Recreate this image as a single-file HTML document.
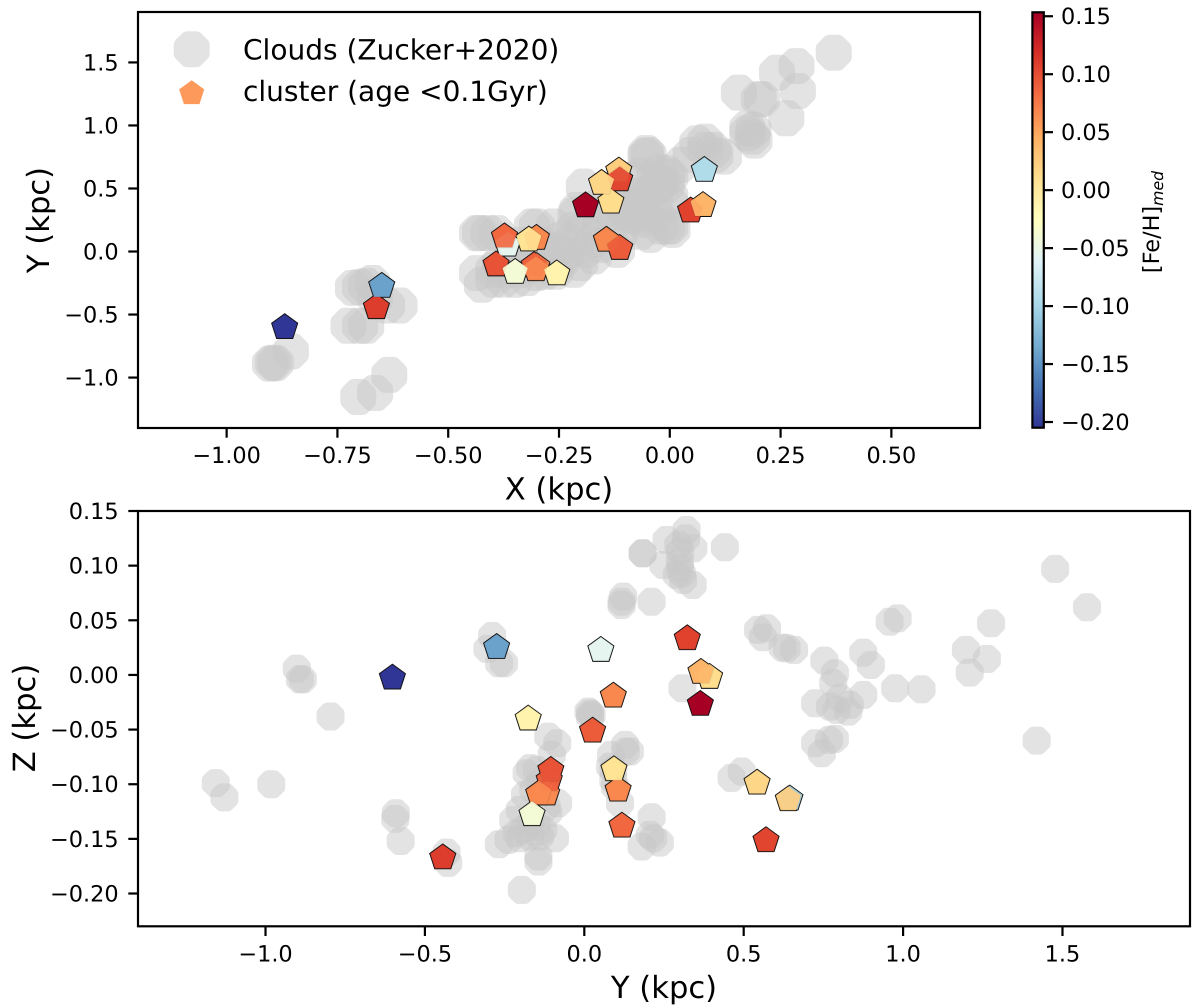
<!DOCTYPE html>
<html>
<head>
<meta charset="utf-8">
<title>Clouds and young clusters</title>
<style>
html,body{margin:0;padding:0;background:#fff;width:1200px;height:1005px;overflow:hidden}
svg{display:block}
text{font-family:"DejaVu Sans","Liberation Sans",sans-serif;fill:#000;text-rendering:geometricPrecision}
</style>
</head>
<body>
<svg id="chart" xmlns="http://www.w3.org/2000/svg" width="1200" height="1005" viewBox="0 0 1200 1005">
<defs>
<linearGradient id="cbar-gradient" x1="0" y1="1" x2="0" y2="0"></linearGradient>
<clipPath id="clip-top"><rect x="138" y="12" width="842" height="416"></rect></clipPath>
<clipPath id="clip-bottom"><rect x="138" y="511" width="1052" height="415"></rect></clipPath>
</defs>
</svg>
<script>
// ---- Cluster data (drawn in both panels) ----
const clusterX = [0.078,-0.366,-0.30,-0.301,-0.306,-0.392,-0.302,-0.349,-0.255,-0.318,-0.115,-0.113,-0.133,-0.154,-0.373,-0.143,-0.113,0.047,0.075,-0.19,-0.662,-0.65,-0.869];
const clusterY = [0.645,0.052,-0.118,0.106,-0.11,-0.105,-0.143,-0.164,-0.176,0.093,0.640,0.570,0.393,0.542,0.118,0.091,0.026,0.323,0.366,0.364,-0.444,-0.275,-0.602];
const clusterZ = [-0.1134,0.0226,-0.1088,-0.1052,-0.0962,-0.0872,-0.1088,-0.1277,-0.0402,-0.0866,-0.114,-0.1515,-0.0021,-0.0988,-0.1382,-0.0192,-0.0512,0.0333,0.0025,-0.0268,-0.1672,0.0253,-0.0027];
const clusterFeH = [-0.094,-0.055,0.065,0.067,0.09,0.097,0.067,-0.04,-0.012,0.007,0.024,0.105,0.012,0.017,0.085,0.067,0.092,0.107,0.04,0.153,0.11,-0.14,-0.205];

// ---- Clouds, X-Y panel ----
const topCloudX = [-0.902,-0.889,-0.895,-0.855,-0.715,-0.699,-0.671,-0.685,-0.725,-0.699,-0.685,-0.61,-0.638,-0.665,-0.633,-0.665,-0.703,
0.37,0.286,0.242,0.289,0.156,0.201,0.208,0.263,0.175,0.189,0.186,0.175,0.191,0.062,0.08,0.099,0.08,0.103,0.122,
-0.053,-0.048,-0.055,-0.025,-0.006,-0.036,-0.021,0.001,-0.029,-0.006,0.001,0.001,-0.051,-0.074,0.001,-0.006,-0.021,0.006,-0.066,-0.085,-0.096,-0.194,-0.209,
-0.3,-0.262,-0.217,-0.194,-0.224,-0.172,-0.134,-0.096,-0.066,-0.127,-0.157,-0.112,-0.119,-0.172,-0.202,-0.247,-0.217,-0.311,
-0.435,-0.428,-0.409,-0.39,-0.435,-0.424,-0.398,-0.375,-0.349,-0.322,-0.3,-0.398,-0.367,-0.338,-0.383,-0.292,-0.258,-0.315,-0.27,-0.337,
-0.247,-0.281,-0.236,-0.19,-0.157,-0.213,-0.157,-0.112,-0.066,-0.033,-0.112,-0.066,-0.089,0.024,0.047,-0.033,-0.044,-0.066,-0.349,-0.315,-0.281,-0.258];
const topCloudY = [-0.89,-0.885,-0.882,-0.792,-0.288,-0.282,-0.25,-0.272,-0.589,-0.589,-0.589,-0.428,-0.428,-0.367,-0.979,-1.122,-1.154,
1.577,1.471,1.418,1.273,1.26,1.208,1.208,1.057,0.978,0.964,0.911,0.938,0.88,0.859,0.872,0.806,0.806,0.766,0.753,
0.782,0.766,0.758,0.634,0.621,0.568,0.542,0.594,0.515,0.529,0.436,0.384,0.436,0.357,0.198,0.198,0.198,0.172,0.251,0.277,0.291,0.515,0.33,
0.198,0.198,0.172,0.172,0.067,0.093,0.225,0.33,0.304,0.304,0.225,0.146,0.013,-0.04,-0.092,-0.092,-0.145,0.198,
0.146,0.146,0.146,0.146,-0.171,-0.264,-0.224,-0.224,-0.224,-0.211,-0.171,-0.145,-0.145,-0.145,-0.092,0.053,0.013,-0.026,-0.105,0.053,
0.093,0.013,-0.026,0.013,0.053,0.291,0.37,0.37,0.449,0.37,0.489,0.608,0.568,0.687,0.766,0.291,0.132,0.156,-0.066,-0.105,-0.161,-0.161];

// ---- Clouds, Y-Z panel ----
const bottomCloudY = [-0.902,-0.892,-0.883,-0.796,-1.156,-1.129,-0.982,-0.591,-0.593,-0.576,-0.432,-0.427,-0.289,-0.304,-0.267,-0.252,
0.321,0.319,0.258,0.183,0.183,0.441,0.342,0.248,0.3,0.3,0.3,0.306,0.31,0.34,0.29,0.295,0.122,0.117,0.117,0.211,
0.018,0.013,0.023,0.018,-0.113,-0.085,-0.102,-0.17,-0.181,-0.149,-0.139,-0.186,-0.16,-0.082,-0.118,-0.202,-0.223,-0.113,
-0.268,-0.238,-0.212,-0.202,-0.17,-0.139,-0.092,-0.144,-0.144,-0.196,-0.17,-0.191,-0.149,-0.129,
0.084,0.128,0.143,0.13,0.091,0.081,0.091,0.096,0.112,0.211,0.206,0.18,0.237,0.216,
0.308,0.545,0.573,0.56,0.622,0.635,0.658,0.753,0.786,0.781,0.875,0.899,0.958,0.983,0.975,1.058,
1.477,1.577,1.276,1.197,1.263,1.209,1.419,0.462,0.494,
0.724,0.771,0.792,0.802,0.833,0.828,0.875,0.724,0.786,0.768,0.745];
const bottomCloudZ = [0.0058,-0.004,-0.004,-0.038,-0.099,-0.112,-0.1,-0.1265,-0.1317,-0.152,-0.1625,-0.172,0.0357,0.0238,0.0107,0.0107,
0.1326,0.125,0.1235,0.1113,0.1113,0.1168,0.1159,0.1006,0.1128,0.1036,0.0976,0.093,0.0869,0.0823,0.0915,0.1189,0.0716,0.067,0.064,0.067,
-0.035,-0.0336,-0.0366,-0.0381,-0.0564,-0.0625,-0.0732,-0.0853,-0.09,-0.0869,-0.0976,-0.1098,-0.1052,-0.1174,-0.1205,-0.1235,-0.1326,-0.1265,
-0.1549,-0.1509,-0.1448,-0.1494,-0.1479,-0.1479,-0.1494,-0.1662,-0.1708,-0.1967,-0.1357,-0.1418,-0.1387,-0.1418,
-0.0732,-0.064,-0.0701,-0.0701,-0.0869,-0.0839,-0.096,-0.1022,-0.1174,-0.1302,-0.1463,-0.157,-0.1534,-0.1494,
-0.0122,0.0412,0.0427,0.0345,0.025,0.0244,0.0229,0.0131,0.0016,-0.0076,0.0204,0.0091,0.0487,0.0518,-0.0122,-0.0131,
0.097,0.0619,0.0473,0.0229,0.0146,0.0021,-0.0601,-0.0942,-0.0884,
-0.0259,-0.029,-0.032,-0.0213,-0.0274,-0.0336,-0.0183,-0.0625,-0.0585,-0.0595,-0.0716];

// ---- Tick labels ----
const topXTicks = [-1.0,-0.75,-0.5,-0.25,0,0.25,0.5];
const topYTicks = [-1.0,-0.5,0,0.5,1.0,1.5];
const bottomXTicks = [-1.0,-0.5,0,0.5,1.0,1.5];
const bottomYTicks = [-0.2,-0.15,-0.1,-0.05,0,0.05,0.1,0.15];
const colorbarTicks = [-0.2,-0.15,-0.1,-0.05,0,0.05,0.1,0.15];

// ---- Colormap (RdYlBu reversed) ----
const cmapColors = ['#313695','#4575b4','#74add1','#abd9e9','#e0f3f8','#ffffbf','#fee090','#fdae61','#f46d43','#d73027','#a50026'];
const colorRange = [-0.2049,0.1534];

const svg = document.getElementById('chart');
const NS = 'http://www.w3.org/2000/svg';

function lin(d0, d1, r0, r1) {
  return function (v) { return r0 + (v - d0) / (d1 - d0) * (r1 - r0); };
}
const topPX = lin(-1.2, 0.7, 138, 980);
const topPY = lin(-1.4, 1.9, 428, 12);
const botPX = lin(-1.4, 1.9, 138, 1190);
const botPY = lin(-0.23, 0.15, 926.3, 511);
const cbarPY = lin(colorRange[0], colorRange[1], 427.7, 12.3);

function make(tag, attrs, parent) {
  const el = document.createElementNS(NS, tag);
  for (const k in attrs) el.setAttribute(k, attrs[k]);
  (parent || svg).appendChild(el);
  return el;
}
function hex2rgb(h) {
  return [parseInt(h.slice(1,3),16), parseInt(h.slice(3,5),16), parseInt(h.slice(5,7),16)];
}
function colorFor(v) {
  let t = (v - colorRange[0]) / (colorRange[1] - colorRange[0]);
  t = Math.max(0, Math.min(1, t)) * (cmapColors.length - 1);
  const i = Math.min(Math.floor(t), cmapColors.length - 2);
  const a = hex2rgb(cmapColors[i]), b = hex2rgb(cmapColors[i + 1]), f = t - i;
  return 'rgb(' + a.map(function (c, j) { return Math.round(c + (b[j] - c) * f); }).join(',') + ')';
}
function pentagonPoints(cx, cy, R) {
  const pts = [];
  for (let i = 0; i < 5; i++) {
    const a = -Math.PI / 2 + i * 2 * Math.PI / 5;
    pts.push((cx + R * Math.cos(a)).toFixed(2) + ',' + (cy + R * Math.sin(a)).toFixed(2));
  }
  return pts.join(' ');
}
// Octagon with softened corners, matching the look of the downsampled '8' marker
function octagonPath(cx, cy, r) {
  const R = r / Math.cos(Math.PI / 8), v = [];
  for (let i = 0; i < 8; i++) {
    const a = Math.PI / 8 + i * Math.PI / 4;
    v.push([cx + R * Math.cos(a), cy + R * Math.sin(a)]);
  }
  const k = 0.22;
  let d = '';
  for (let i = 0; i < 8; i++) {
    const p = v[(i + 7) % 8], c = v[i], n = v[(i + 1) % 8];
    const inX = c[0] + (p[0] - c[0]) * k, inY = c[1] + (p[1] - c[1]) * k;
    const outX = c[0] + (n[0] - c[0]) * k, outY = c[1] + (n[1] - c[1]) * k;
    d += (i === 0 ? 'M' : 'L') + inX.toFixed(2) + ' ' + inY.toFixed(2) + 'Q' + c[0].toFixed(2) + ' ' + c[1].toFixed(2) + ' ' + outX.toFixed(2) + ' ' + outY.toFixed(2);
  }
  return d + 'Z';
}
function fmt(v, digits) {
  const s = Math.abs(v).toFixed(digits);
  return (v < -1e-9 ? '\u2212' : '') + s;
}
const CLOUD_FILL = '#c8c8c8', CLOUD_ALPHA = 0.5;

// ---- Top panel clouds ----
const topClouds = make('g', {'clip-path': 'url(#clip-top)'});


topCloudX.forEach(function (x, i) {
  const el = make('path', {d: octagonPath(topPX(x), topPY(topCloudY[i]), 18), fill: CLOUD_FILL, 'fill-opacity': CLOUD_ALPHA}, topClouds);
  
  
});

// ---- Bottom panel clouds ----
const botClouds = make('g', {'clip-path': 'url(#clip-bottom)'});


bottomCloudY.forEach(function (y, i) {
  const el = make('path', {d: octagonPath(botPX(y), botPY(bottomCloudZ[i]), 14), fill: CLOUD_FILL, 'fill-opacity': CLOUD_ALPHA}, botClouds);
  
  
});

// ---- Clusters: outlined layer first, then plain fills on top ----
function drawClusters(groupName, px, py, xs, ys) {
  const g = make('g', {});
  
  
  xs.forEach(function (x, i) {
    const el = make('polygon', {points: pentagonPoints(px(x), py(ys[i]), 13.4), fill: colorFor(clusterFeH[i]), stroke: '#111', 'stroke-width': 1.5, 'stroke-linejoin': 'miter'}, g);
    
    
  });
  xs.forEach(function (x, i) {
    const el = make('polygon', {points: pentagonPoints(px(x), py(ys[i]), 13.2), fill: colorFor(clusterFeH[i]), 'fill-opacity': 0.9}, g);
    
    
  });
}
drawClusters('clusters-xy-series', topPX, topPY, clusterX, clusterY);
drawClusters('clusters-yz-series', botPX, botPY, clusterY, clusterZ);

// ---- Axes frames ----
const frameTop = make('rect', {x: 138, y: 12, width: 842, height: 416, fill: 'none', stroke: '#000', 'stroke-width': 2.2});


const frameBot = make('rect', {x: 138, y: 511, width: 1052, height: 415.3, fill: 'none', stroke: '#000', 'stroke-width': 2.2});



// ---- Ticks ----
function xTicks(ticks, px, axisY, digits, tickName, labelName) {
  ticks.forEach(function (v) {
    const x = px(v);
    const t = make('line', {x1: x, x2: x, y1: axisY, y2: axisY + 9.7, stroke: '#000', 'stroke-width': 2.2});
    
    
    const l = make('text', {x: x, y: axisY + 35, 'text-anchor': 'middle', 'font-size': 22.4});
    l.textContent = fmt(v, digits);
    
    
  });
}
function yTicks(ticks, py, axisX, digits, tickName, labelName) {
  ticks.forEach(function (v) {
    const y = py(v);
    const t = make('line', {x1: axisX - 9.7, x2: axisX, y1: y, y2: y, stroke: '#000', 'stroke-width': 2.2});
    
    
    const l = make('text', {x: axisX - 19.4, y: y + 8, 'text-anchor': 'end', 'font-size': 22.4});
    l.textContent = fmt(v, digits);
    
    
  });
}
xTicks(topXTicks, topPX, 428, 2, 'x-axis-tick', 'x-tick-label');
yTicks(topYTicks, topPY, 138, 1, 'y-axis-tick', 'y-tick-label');
xTicks(bottomXTicks, botPX, 926.3, 1, 'y-axis-tick-lower', 'y-tick-label-lower');
yTicks(bottomYTicks, botPY, 138, 2, 'z-axis-tick', 'z-tick-label');

// ---- Axis titles ----
const xTitle = make('text', {x: 559, y: 499.5, 'text-anchor': 'middle', 'font-size': 30.6});
xTitle.textContent = 'X (kpc)';


const yTitle = make('text', {x: 0, y: 0, 'text-anchor': 'middle', 'font-size': 30.6, transform: 'translate(49,220) rotate(-90)'});
yTitle.textContent = 'Y (kpc)';


const y2Title = make('text', {x: 664, y: 998, 'text-anchor': 'middle', 'font-size': 30.6});
y2Title.textContent = 'Y (kpc)';


const zTitle = make('text', {x: 0, y: 0, 'text-anchor': 'middle', 'font-size': 30.6, transform: 'translate(35,718) rotate(-90)'});
zTitle.textContent = 'Z (kpc)';



// ---- Legend ----
const legendCloud = make('path', {d: octagonPath(191.7, 49.3, 18), fill: CLOUD_FILL, 'fill-opacity': CLOUD_ALPHA});


const legendText1 = make('text', {x: 243, y: 59.5, 'font-size': 28});
legendText1.textContent = 'Clouds (Zucker+2020)';


const legendPent = make('polygon', {points: pentagonPoints(191.7, 93.4, 13.2), fill: '#fd9a5b'});


const legendText2 = make('text', {x: 243, y: 101, 'font-size': 28});
legendText2.textContent = 'cluster (age <0.1Gyr)';



// ---- Colorbar ----
const grad = document.getElementById('cbar-gradient');
cmapColors.forEach(function (c, i) {
  make('stop', {offset: (i / (cmapColors.length - 1) * 100) + '%', 'stop-color': c}, grad);
});
const cbar = make('rect', {x: 1032.4, y: 12.3, width: 11.4, height: 415.4, fill: 'url(#cbar-gradient)', stroke: '#000', 'stroke-width': 2.2});


colorbarTicks.forEach(function (v) {
  const y = cbarPY(v);
  const t = make('line', {x1: 1043.8, x2: 1053, y1: y, y2: y, stroke: '#000', 'stroke-width': 2.2});
  
  
  const l = make('text', {x: 1061, y: y + 8, 'font-size': 22.4});
  l.textContent = fmt(v, 2);
  
  
});
const cbarTitle = make('text', {x: 0, y: 0, 'text-anchor': 'middle', 'font-size': 22.4, transform: 'translate(1159,222) rotate(-90)'});


const t1 = make('tspan', {}, cbarTitle);
t1.textContent = '[Fe/H]';
const t2 = make('tspan', {'font-style': 'italic', 'font-size': 15.7, dy: 4}, cbarTitle);
t2.textContent = 'med';
</script>
</body>
</html>
